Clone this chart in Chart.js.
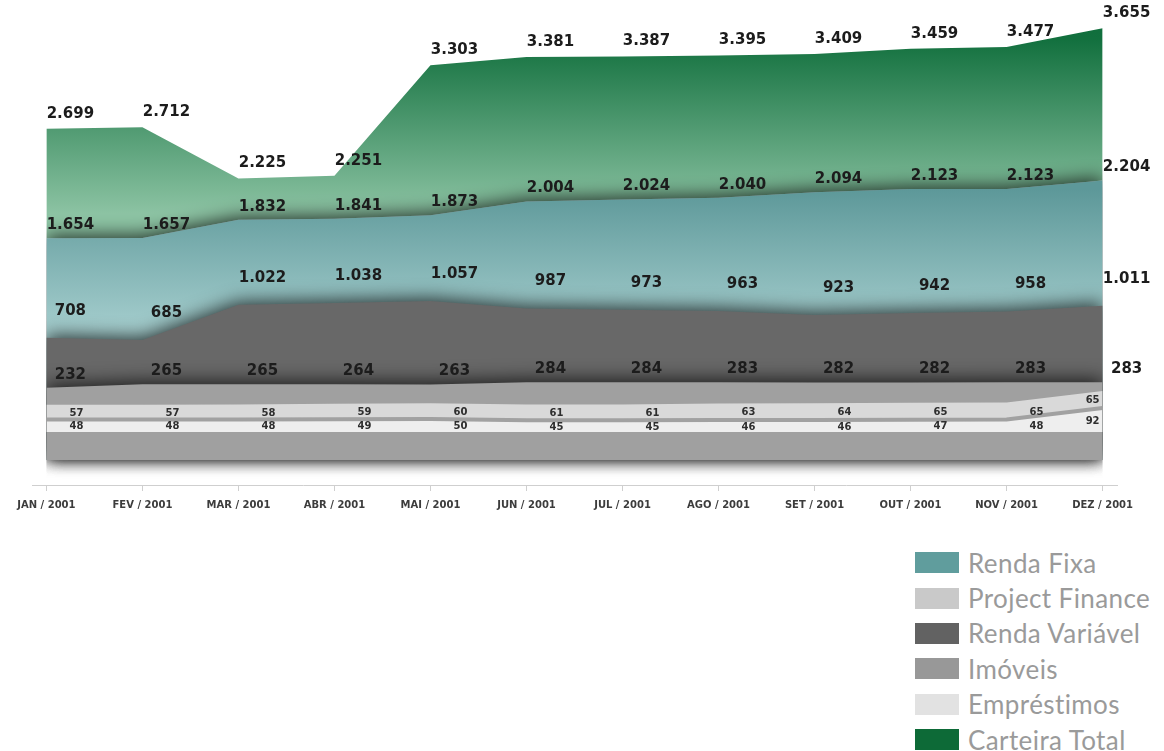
<!DOCTYPE html>
<html lang="pt-BR">
<head>
<meta charset="utf-8">
<title>Carteira de Investimentos 2001</title>
<script src="https://cdn.jsdelivr.net/npm/chart.js@4.4.1/dist/chart.umd.min.js"></script>
<style>
  html, body { margin: 0; padding: 0; background: #fff; }
  #wrap { position: relative; width: 1164px; height: 751px; overflow: hidden; }
  #carteira { position: absolute; left: 0; top: 0; }
  #legend {
    position: absolute; left: 915px; top: 545px; margin: 0; padding: 0; list-style: none;
    font-family: Lato, "Open Sans", sans-serif; font-size: 26px; letter-spacing: 0.4px; color: #9a9a9a;
  }
  #legend li { display: flex; align-items: center; height: 35.4px; white-space: nowrap; }
  #legend .box { width: 44px; height: 21px; margin-right: 9px; flex: none; }
</style>
</head>
<body>
<div id="wrap">
  <canvas id="carteira" width="1164" height="540"></canvas>
  <ul id="legend"></ul>
</div>
<script>
// Posição mensal da carteira em 2001
const meses = ['JAN / 2001', 'FEV / 2001', 'MAR / 2001', 'ABR / 2001', 'MAI / 2001', 'JUN / 2001',
               'JUL / 2001', 'AGO / 2001', 'SET / 2001', 'OUT / 2001', 'NOV / 2001', 'DEZ / 2001'];
const carteiraTotal  = [2699, 2712, 2225, 2251, 3303, 3381, 3387, 3395, 3409, 3459, 3477, 3655];
const rendaFixa      = [1654, 1657, 1832, 1841, 1873, 2004, 2024, 2040, 2094, 2123, 2123, 2204];
const rendaVariavel  = [708, 685, 1022, 1038, 1057, 987, 973, 963, 923, 942, 958, 1011];
const imoveis        = [232, 265, 265, 264, 263, 284, 284, 283, 282, 282, 283, 283];
const projectFinance = [57, 57, 58, 59, 60, 61, 61, 63, 64, 65, 65, 65];
const emprestimos    = [48, 48, 48, 49, 50, 45, 45, 46, 46, 47, 48, 92];

const ordemLegenda = ['Renda Fixa', 'Project Finance', 'Renda Variável', 'Imóveis', 'Empréstimos', 'Carteira Total'];

// piso das faixas no eixo principal
const BASE = -457;

const pontos = serie => serie.map((y, x) => ({ x, y }));
const fmt = v => String(v).replace(/\B(?=(\d{3})+(?!\d))/g, '.');

// degradê vertical relativo à área do gráfico
function gradiente(stops) {
  return (context) => {
    const { ctx, chartArea } = context.chart;
    if (!chartArea) return stops[stops.length - 1][1];
    const g = ctx.createLinearGradient(0, chartArea.top, 0, chartArea.bottom);
    stops.forEach(([at, cor]) => g.addColorStop(at, cor));
    return g;
  };
}

// índice 0 é desenhado por último (fica por cima)
const datasets = [
  { label: 'Empréstimos', data: pontos(emprestimos), yAxisID: 'yLow', fill: 'origin',
    backgroundColor: '#eeeeee', borderColor: '#a1a1a1', borderWidth: 4,
    swatch: '#e2e2e2', rotulo: { faixa: true } },
  { label: 'Project Finance', data: pontos(projectFinance), yAxisID: 'yLow', fill: '-1',
    backgroundColor: '#d9d9d9', swatch: '#c9c9c9', rotulo: { faixa: true } },
  { label: 'Imóveis', data: pontos(imoveis), fill: { value: BASE },
    backgroundColor: '#a0a0a0', swatch: '#989898', sombra: true, rotulo: { dy: -13 } },
  { label: 'Renda Variável', data: pontos(rendaVariavel), fill: { value: BASE },
    backgroundColor: '#686868', swatch: '#626262', sombra: true, rotulo: { dy: -27 } },
  { label: 'Renda Fixa', data: pontos(rendaFixa), fill: { value: BASE },
    backgroundColor: gradiente([[0, '#5d9899'], [0.39, '#5d9899'], [0.68, '#a4cdcd'], [1, '#a4cdcd']]),
    swatch: '#609d9d', sombra: true, rotulo: { dy: -13 } },
  { label: 'Carteira Total', data: pontos(carteiraTotal), fill: '-1',
    backgroundColor: gradiente([[0, '#0d6a39'], [0.08, '#12703e'], [0.44, '#8cc3a3'], [1, '#8cc3a3']]),
    swatch: '#0d6a37', rotulo: { dy: -15 } }
];

function limparSombra(ctx) {
  ctx.shadowColor = 'rgba(0, 0, 0, 0)';
  ctx.shadowBlur = 0;
  ctx.shadowOffsetX = 0;
  ctx.shadowOffsetY = 0;
}

function prepararSombra(chart, meta) {
  const ctx = chart.ctx;
  if (meta && chart.data.datasets[meta.index].sombra) {
    ctx.shadowColor = 'rgba(0, 0, 0, 0.72)';
    ctx.shadowBlur = 18;
    ctx.shadowOffsetX = 0;
    ctx.shadowOffsetY = -3;
  } else {
    limparSombra(ctx);
  }
}

// o Filler pinta cada faixa no beforeDatasetDraw, então a sombra é armada
// logo depois da faixa anterior e desligada antes do traço da linha
const sombraFaixas = {
  id: 'sombraFaixas',
  beforeDatasetsDraw(chart) {
    const metas = chart.getSortedVisibleDatasetMetas();
    prepararSombra(chart, metas[metas.length - 1]);
  },
  beforeDatasetDraw(chart) {
    limparSombra(chart.ctx);
  },
  afterDatasetDraw(chart, args) {
    const metas = chart.getSortedVisibleDatasetMetas();
    prepararSombra(chart, metas[metas.indexOf(args.meta) - 1]);
  },
  afterDatasetsDraw(chart) {
    limparSombra(chart.ctx);
  }
};

const rotulosValores = {
  id: 'rotulosValores',
  afterDatasetsDraw(chart) {
    const ctx = chart.ctx;
    const yLow = chart.scales.yLow;
    ctx.save();
    ctx.textAlign = 'center';
    ctx.textBaseline = 'middle';
    chart.data.datasets.forEach((ds, di) => {
      const meta = chart.getDatasetMeta(di);
      const r = ds.rotulo;
      meta.data.forEach((pt, i) => {
        const texto = fmt(ds.data[i].y);
        if (r.faixa) {
          const base = ds.fill === 'origin' ? yLow.getPixelForValue(0) : chart.getDatasetMeta(di - 1).data[i].y;
          const x = i === meta.data.length - 1 ? pt.x - 10 : pt.x + 30;
          ctx.font = 'bold 10px "DejaVu Sans"';
          ctx.fillStyle = '#2e2e2e';
          ctx.fillText(texto, x, (pt.y + base) / 2 + 1);
        } else {
          ctx.font = 'bold 15px "DejaVu Sans"';
          ctx.fillStyle = '#1c1c1c';
          ctx.fillText(texto, pt.x + 24, pt.y + r.dy);
        }
      });
    });
    ctx.restore();
  }
};

const chart = new Chart(document.getElementById('carteira'), {
  type: 'line',
  data: { datasets },
  options: {
    responsive: false,
    animation: false,
    devicePixelRatio: 1,
    layout: { padding: { left: 32, right: 47, top: 0, bottom: 21 } },
    elements: {
      point: { radius: 0, hoverRadius: 0 },
      line: { tension: 0, borderWidth: 0 }
    },
    plugins: {
      legend: { display: false },
      tooltip: { enabled: false },
      filler: { propagate: false }
    },
    scales: {
      x: {
        type: 'linear',
        min: -0.15,
        max: 11.15,
        ticks: {
          stepSize: 1,
          includeBounds: false,
          autoSkip: false,
          maxRotation: 0,
          padding: 8,
          color: '#3c3c3c',
          font: { family: '"DejaVu Sans"', size: 10, weight: 'bold' },
          callback: v => meses[v] ?? ''
        },
        grid: { drawOnChartArea: false, tickLength: 6, color: '#cfcfcf' },
        border: { color: '#cfcfcf', width: 1 }
      },
      y: { display: false, min: -695, max: 3924 },
      yLow: { display: false, stacked: true, min: -204, max: 1661 }
    }
  },
  plugins: [sombraFaixas, rotulosValores]
});

// legenda em coluna, abaixo do gráfico
const legenda = document.getElementById('legend');
ordemLegenda.forEach(nome => {
  const ds = chart.data.datasets.find(d => d.label === nome);
  const li = document.createElement('li');
  li.innerHTML = `<span class="box" style="background:${ds.swatch}"></span>${nome}`;
  legenda.appendChild(li);
});
</script>
</body>
</html>
